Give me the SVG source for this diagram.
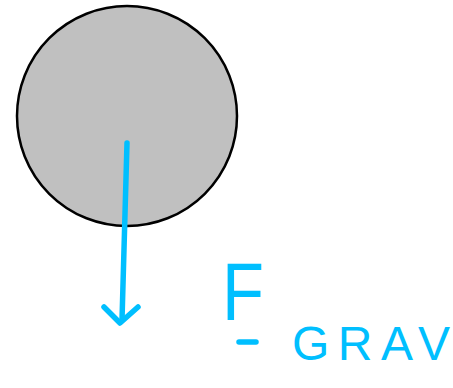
<svg xmlns="http://www.w3.org/2000/svg" width="453" height="388" viewBox="0 0 453 388">
<style>
.pen{fill:none;stroke:#00BFFF;stroke-width:5.5;stroke-linecap:round;stroke-linejoin:round}
.lbl{fill:#00BFFF;font-family:"Liberation Sans",Arial,sans-serif}
</style>
<rect width="453" height="388" fill="#fff"/>
<g id="ball">
<circle cx="127" cy="116" r="110" fill="#C0C0C0" stroke="#000" stroke-width="2.5"/>
</g>
<g id="connectors">
<path class="pen" d="M127 143 L122 320"/>
<path class="pen" d="M104 307 L120 323 L138 307"/>
</g>
<g id="label">
<text class="lbl" x="222" y="320" font-size="82" textLength="42" lengthAdjust="spacingAndGlyphs">F</text>
<path class="pen" d="M239 342 L256 342"/>
<text class="lbl" x="292" y="360" font-size="48" textLength="158" lengthAdjust="spacing">GRAV</text>
</g>
</svg>
